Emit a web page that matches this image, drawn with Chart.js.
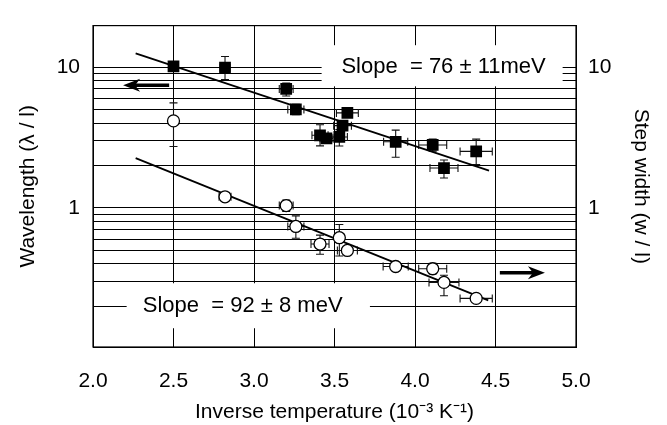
<!DOCTYPE html>
<html>
<head>
<meta charset="utf-8">
<script src="https://cdn.jsdelivr.net/npm/chart.js@4.4.1/dist/chart.umd.min.js"></script>
<style>
  html, body { margin: 0; padding: 0; background: #fff; }
</style>
</head>
<body>
<canvas id="chart" width="667" height="425"></canvas>
<script>
// Wavelength (lambda / l), filled squares, left axis
const waveX    = [2.50, 2.82, 3.20, 3.26, 3.41, 3.45, 3.53, 3.55, 3.58, 3.88, 4.11, 4.18, 4.38];
const waveY    = [10.1, 9.9, 7.0, 5.0, 3.28, 3.12, 3.19, 3.84, 4.73, 2.95, 2.80, 1.92, 2.52];
const waveXErr = [0, 0.03, 0.043, 0.05, 0.05, 0.04, 0.05, 0.055, 0.068, 0.075, 0.087, 0.087, 0.10];
const waveYLo  = [10.1, 8.15, 6.24, 4.6, 2.76, 2.9, 2.75, 3.6, 4.4, 2.29, 2.53, 1.63, 2.03];
const waveYHi  = [10.1, 11.9, 7.7, 5.45, 3.9, 3.35, 3.6, 4.1, 5.0, 3.57, 3.08, 2.19, 3.08];

// Step width (w / l), open circles, right axis
const stepX    = [2.50, 2.82, 3.20, 3.26, 3.41, 3.53, 3.58, 3.88, 4.11, 4.18, 4.38];
const stepY    = [4.15, 1.20, 1.04, 0.739, 0.554, 0.615, 0.499, 0.384, 0.370, 0.296, 0.228];
const stepXErr = [0, 0.037, 0.043, 0.05, 0.056, 0.03, 0.062, 0.078, 0.087, 0.093, 0.10];
const stepYLo  = [2.73, 1.20, 0.945, 0.609, 0.469, 0.456, 0.499, 0.384, 0.34, 0.238, 0.228];
const stepYHi  = [5.57, 1.20, 1.14, 0.878, 0.641, 0.762, 0.499, 0.384, 0.405, 0.333, 0.228];

// fitted lines
const waveFitX = [2.265, 4.46];
const waveFitY = [12.5, 1.84];
const stepFitX = [2.265, 4.455];
const stepFitY = [2.26, 0.221];

// axes
const xTicks = [2.0, 2.5, 3.0, 3.5, 4.0, 4.5, 5.0];
const yGrid = [0.2, 0.3, 0.4, 0.5, 0.6, 0.7, 0.8, 0.9, 1, 2, 3, 4, 5, 6, 7, 8, 9, 10];
const yLabels = [1, 10];

const FONT = '"Liberation Sans", Arial, sans-serif';

const pts = (xs, ys) => xs.map((x, i) => ({ x: x, y: ys[i] }));

// annotation boxes, text and arrows (in data units)
const notes = [
  { text: 'Slope  = 76 \u00b1 11meV', at: [3.543, 10], box: [3.42, 4.917, 14.3, 7.3] },
  { text: 'Slope  = 92 \u00b1 8 meV', at: [2.309, 0.2], box: [2.209, 3.72, 0.292, 0.14] }
];
const arrows = [
  { from: [2.473, 7.42], to: [2.187, 7.42] },
  { from: [4.527, 0.346], to: [4.807, 0.346] }
];

function drawErrorBars(ctx, xs, ys, xe, lo, hi, sx, sy) {
  const cap = 4;
  xs.forEach((v, i) => {
    const px = sx.getPixelForValue(v), py = sy.getPixelForValue(ys[i]);
    if (xe[i] > 0) {
      const l = sx.getPixelForValue(v - xe[i]), r = sx.getPixelForValue(v + xe[i]);
      ctx.beginPath();
      ctx.moveTo(l, py); ctx.lineTo(r, py);
      ctx.moveTo(l, py - cap); ctx.lineTo(l, py + cap);
      ctx.moveTo(r, py - cap); ctx.lineTo(r, py + cap);
      ctx.stroke();
    }
    if (lo[i] !== hi[i]) {
      const t = sy.getPixelForValue(hi[i]), b = sy.getPixelForValue(lo[i]);
      ctx.beginPath();
      ctx.moveTo(px, t); ctx.lineTo(px, b);
      ctx.moveTo(px - cap, t); ctx.lineTo(px + cap, t);
      ctx.moveTo(px - cap, b); ctx.lineTo(px + cap, b);
      ctx.stroke();
    }
  });
}

const overlay = {
  id: 'overlay',
  beforeDatasetsDraw(chart) {
    const { ctx, chartArea: a, scales } = chart;
    const sx = scales.x, sy = scales.y;
    ctx.save();
    notes.forEach(n => {
      const l = sx.getPixelForValue(n.box[0]), r = sx.getPixelForValue(n.box[1]);
      const t = sy.getPixelForValue(n.box[2]), b = sy.getPixelForValue(n.box[3]);
      ctx.fillStyle = '#fff';
      ctx.fillRect(l, t, r - l, b - t);
      ctx.fillStyle = '#000';
      ctx.font = '22px ' + FONT;
      ctx.textAlign = 'left';
      ctx.textBaseline = 'middle';
      ctx.fillText(n.text, sx.getPixelForValue(n.at[0]), sy.getPixelForValue(n.at[1]));
    });
    ctx.strokeStyle = '#000';
    ctx.lineWidth = 1.2;
    ctx.strokeRect(a.left, a.top, a.right - a.left, a.bottom - a.top);
    ctx.strokeStyle = '#111';
    ctx.lineWidth = 1.1;
    drawErrorBars(ctx, waveX, waveY, waveXErr, waveYLo, waveYHi, sx, sy);
    drawErrorBars(ctx, stepX, stepY, stepXErr, stepYLo, stepYHi, sx, scales.y2);
    ctx.restore();
  },
  afterDatasetsDraw(chart) {
    const { ctx, scales } = chart;
    ctx.save();
    ctx.fillStyle = '#000';
    ctx.strokeStyle = '#000';
    arrows.forEach(ar => {
      const x0 = scales.x.getPixelForValue(ar.from[0]);
      const x1 = scales.x.getPixelForValue(ar.to[0]);
      const y = scales.y.getPixelForValue(ar.to[1]);
      const d = Math.sign(x1 - x0);
      ctx.lineWidth = 3.5;
      ctx.beginPath();
      ctx.moveTo(x0, y);
      ctx.lineTo(x1 - d * 8, y);
      ctx.stroke();
      ctx.beginPath();
      ctx.moveTo(x1, y);
      ctx.lineTo(x1 - d * 17, y - 6.5);
      ctx.lineTo(x1 - d * 12, y);
      ctx.lineTo(x1 - d * 17, y + 6.5);
      ctx.closePath();
      ctx.fill();
    });
    ctx.restore();
  }
};

new Chart(document.getElementById('chart'), {
  type: 'scatter',
  data: {
    datasets: [
      {
        label: 'Wavelength',
        data: pts(waveX, waveY),
        yAxisID: 'y',
        pointStyle: 'rect',
        pointRadius: 8.3,
        backgroundColor: '#000',
        borderColor: '#000',
        borderWidth: 0
      },
      {
        label: 'Step width',
        data: pts(stepX, stepY),
        yAxisID: 'y2',
        pointStyle: 'circle',
        pointRadius: 6,
        backgroundColor: '#fff',
        borderColor: '#000',
        borderWidth: 1.3
      },
      {
        label: 'Wavelength fit',
        data: pts(waveFitX, waveFitY),
        yAxisID: 'y',
        showLine: true,
        pointRadius: 0,
        borderColor: '#000',
        borderWidth: 1.8
      },
      {
        label: 'Step width fit',
        data: pts(stepFitX, stepFitY),
        yAxisID: 'y2',
        showLine: true,
        pointRadius: 0,
        borderColor: '#000',
        borderWidth: 1.8
      }
    ]
  },
  options: {
    responsive: false,
    animation: false,
    devicePixelRatio: 1,
    layout: { padding: { top: 12, left: 0, right: 0, bottom: 0 } },
    plugins: { legend: { display: false }, tooltip: { enabled: false } },
    scales: {
      x: {
        type: 'linear',
        min: 2, max: 5,
        afterBuildTicks: s => { s.ticks = xTicks.map(v => ({ value: v })); },
        afterFit: s => { s.height = 78; },
        grid: { color: '#000', lineWidth: 1, drawTicks: false },
        border: { color: '#000', width: 1 },
        ticks: {
          padding: 22, color: '#000', maxRotation: 0, autoSkip: false,
          font: { family: FONT, size: 21 },
          callback: v => v.toFixed(1)
        },
        title: {
          display: true, text: 'Inverse temperature (10\u207b\u00b3 K\u207b\u00b9)',
          color: '#000', font: { family: FONT, size: 21 }, padding: { top: 0, bottom: 0 }
        }
      },
      y: {
        type: 'logarithmic',
        position: 'left',
        min: 0.103, max: 19.7,
        afterBuildTicks: s => { s.ticks = yGrid.map(v => ({ value: v })); },
        afterFit: s => { s.width = 93; },
        grid: { color: '#000', lineWidth: 1, drawTicks: false },
        border: { color: '#000', width: 1 },
        ticks: {
          padding: 13, color: '#000', autoSkip: false,
          font: { family: FONT, size: 21 },
          callback: v => (yLabels.includes(v) ? String(v) : '')
        },
        title: {
          display: true, text: 'Wavelength (\u03bb / l)',
          color: '#000', font: { family: FONT, size: 21 }, padding: { top: 16, bottom: 0 }
        }
      },
      y2: {
        type: 'logarithmic',
        position: 'right',
        min: 0.103, max: 19.7,
        afterBuildTicks: s => { s.ticks = yLabels.map(v => ({ value: v })); },
        afterFit: s => { s.width = 91; },
        grid: { display: false, drawTicks: false },
        border: { color: '#000', width: 1 },
        ticks: {
          padding: 12, color: '#000', autoSkip: false,
          font: { family: FONT, size: 21 },
          callback: v => String(v)
        },
        title: {
          display: true, text: 'Step width (w / l)',
          color: '#000', font: { family: FONT, size: 21 }, padding: { top: 14, bottom: 0 }
        }
      }
    }
  },
  plugins: [overlay]
});
</script>
</body>
</html>
